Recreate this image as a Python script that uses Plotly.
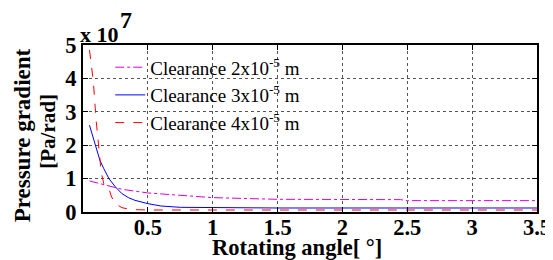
import plotly.graph_objects as go

# Values in units of 1e7 Pa/rad
x_c2 = [0.05, 0.1, 0.18, 0.3, 0.5, 0.75, 1.0, 1.5, 2.0, 2.45, 2.5, 3.0, 3.5]
y_c2 = [0.93, 0.88, 0.80, 0.68, 0.57, 0.50, 0.43, 0.38, 0.37, 0.37, 0.34, 0.34, 0.34]

x_c3 = [0.05, 0.08, 0.1, 0.13, 0.16, 0.2, 0.25, 0.3, 0.35, 0.4, 0.5, 0.6, 0.75, 1.0, 1.5, 2.0, 2.5, 3.0, 3.5]
y_c3 = [2.6, 2.2, 1.9, 1.55, 1.3, 1.0, 0.75, 0.55, 0.43, 0.35, 0.25, 0.18, 0.14, 0.13, 0.12, 0.12, 0.12, 0.12, 0.12]

x_c4 = [0.05, 0.08, 0.1, 0.12, 0.14, 0.16, 0.18, 0.2, 0.22, 0.25, 0.3, 0.35, 0.4, 0.5, 0.7, 1.0, 1.5, 2.0, 2.5, 3.0, 3.5]
y_c4 = [4.85, 3.9, 2.8, 1.9, 1.2, 0.85, 0.8, 0.7, 0.45, 0.25, 0.13, 0.09, 0.07, 0.06, 0.06, 0.06, 0.06, 0.06, 0.06, 0.06, 0.06]

names = ["Clearance 2x10<sup>-5</sup> m", "Clearance 3x10<sup>-5</sup> m", "Clearance 4x10<sup>-5</sup> m"]
x_ticks = [0.5, 1, 1.5, 2, 2.5, 3, 3.5]
x_tick_labels = ["0.5", "1", "1.5", "2", "2.5", "3", "3.5"]
y_ticks = [0, 1, 2, 3, 4, 5]
y_tick_labels = ["0", "1", "2", "3", "4", "5"]

FONT = "Liberation Serif"

fig = go.Figure()
fig.add_trace(go.Scatter(x=x_c2, y=y_c2, mode="lines", name=names[0],
                         line=dict(color="#dd00dd", width=1, dash="dashdot")))
fig.add_trace(go.Scatter(x=x_c3, y=y_c3, mode="lines", name=names[1],
                         line=dict(color="#0000ff", width=1)))
fig.add_trace(go.Scatter(x=x_c4, y=y_c4, mode="lines", name=names[2],
                         line=dict(color="#ff0000", width=1, dash="dash")))

axis_common = dict(showline=True, linecolor="black", linewidth=2, mirror="ticks",
                   ticks="inside", ticklen=5, tickcolor="black", tickwidth=1,
                   showgrid=True, gridcolor="#555555", griddash="dot", gridwidth=1,
                   zeroline=False, automargin=False, ticklabeloverflow="allow",
                   tickfont=dict(family=FONT, size=22.5, color="black"))

# The page adds an 8px body margin, so the figure is 8px smaller on each side.
fig.update_layout(
    template="none",
    width=545, height=252,
    margin=dict(l=75, r=16, t=37, b=48),
    paper_bgcolor="white", plot_bgcolor="white",
    font=dict(family=FONT, color="black"),
    xaxis=dict(range=[0.0, 3.5], tickvals=x_ticks,
               ticktext=["<b>%s</b>" % t for t in x_tick_labels],
               ticklabelstandoff=-6,
               **axis_common),
    yaxis=dict(range=[0, 5], tickvals=y_ticks,
               ticktext=["<b>%s</b>" % t for t in y_tick_labels], **axis_common),
    legend=dict(x=0.06, y=0.98, xanchor="left", yanchor="top", bgcolor="rgba(0,0,0,0)",
                borderwidth=0, font=dict(family=FONT, size=19, color="black"),
                tracegroupgap=0),
    showlegend=True,
)

fig.add_annotation(text="<b>Rotating angle[ °]</b>", xref="paper", yref="paper",
                   x=0.471, y=-0.215, xanchor="center", yanchor="middle",
                   showarrow=False, font=dict(family=FONT, size=22.5))
fig.add_annotation(text="<b>Pressure gradient</b>", xref="paper", yref="paper",
                   x=-0.134, y=0.46, xanchor="center", yanchor="middle",
                   textangle=-90, showarrow=False, font=dict(family=FONT, size=23))
fig.add_annotation(text="<b>[Pa/rad]</b>", xref="paper", yref="paper",
                   x=-0.077, y=0.481, xanchor="center", yanchor="middle",
                   textangle=-90, showarrow=False, font=dict(family=FONT, size=21))
fig.add_annotation(text="<b>x 10</b>", xref="paper", yref="paper",
                   x=-0.01, y=1.06, xanchor="left", yanchor="middle",
                   showarrow=False, font=dict(family=FONT, size=22))
fig.add_annotation(text="<b>7</b>", xref="paper", yref="paper",
                   x=0.077, y=1.15, xanchor="left", yanchor="middle",
                   showarrow=False, font=dict(family=FONT, size=24))

fig.write_html("out.html")
